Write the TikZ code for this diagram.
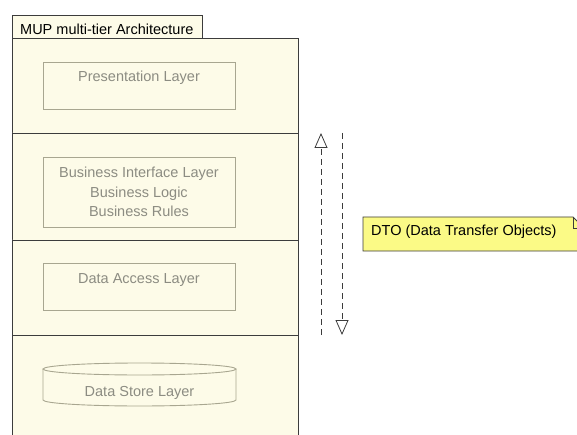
\documentclass[tikz,border=0pt]{standalone}
\usepackage{fontspec}
\setmainfont{Liberation Sans}
\usetikzlibrary{shapes.geometric, arrows.meta, positioning}
\definecolor{PkgCream}{HTML}{FDFBE8}
\definecolor{PkgLine}{HTML}{3C3C3C}
\definecolor{LayerLine}{HTML}{A8A690}
\definecolor{LayerText}{HTML}{8C8C82}
\definecolor{NoteYellow}{HTML}{FBFA86}
\tikzset{
    % Package frame and its tab
    package/.style={
        draw=PkgLine,
        fill=PkgCream,
        line width=0.9pt
    },
    % Boxes for the tiers
    layer box/.style={
        rectangle,
        draw=LayerLine,
        line width=0.9pt,
        minimum width=192,
        minimum height=47,
        inner sep=0pt
    },
    layer line/.style={
        draw=LayerLine,
        line width=0.9pt
    },
    layer text/.style={
        text=LayerText,
        font=\fontsize{14.5}{19.5}\selectfont,
        align=center,
        inner sep=0pt
    },
    plain text/.style={
        text=black,
        font=\fontsize{14.5}{17}\selectfont,
        inner sep=0pt
    },
    % DTO flow arrows
    dto arrow/.style={
        -{Triangle[open, length=15pt, width=13pt]},
        dash pattern=on 6pt off 4pt,
        line width=0.8pt,
        PkgLine
    },
    note/.style={
        draw=PkgLine,
        fill=NoteYellow,
        line width=0.8pt
    }
}

\begin{document}
\begin{tikzpicture}[x=1pt, y=-1pt]
    \useasboundingbox (0,0) rectangle (577,435);
    \clip (0,0) rectangle (577,435);

    % Package
    \draw[package] (12,15) rectangle (202,38);
    \draw[package] (12,38) rectangle (298,450);
    \node[plain text, anchor=base west] (title) at (20,35) {MUP multi-tier Architecture};

    % Tier separators
    \draw[package] (12,133) -- (298,133);
    \draw[package] (12,240) -- (298,240);
    \draw[package] (12,335) -- (298,335);

    % Presentation
    \node[layer box] (presentation) at (139,85.5) {};
    \node[layer text, anchor=base] (presentation label) at (139,82) {Presentation Layer};

    % Business
    \node[layer box, minimum height=70] (business) at (139,192) {};
    \node[layer text] (business label) at (139,192) {Business Interface Layer\\Business Logic\\Business Rules};

    % Data access
    \node[layer box] (access) at (139,286.5) {};
    \node[layer text, anchor=base] (access label) at (139,283) {Data Access Layer};

    % Data store (cylinder)
    \draw[layer line] (43,369) -- (43,400)
        arc[start angle=180, end angle=0, x radius=96.5, y radius=6] -- (236,369);
    \draw[layer line] (139.5,369) ellipse[x radius=96.5, y radius=6];
    \node[layer text, anchor=base] (store label) at (139.5,396) {Data Store Layer};

    % DTO flows up and down
    \coordinate (up start) at (321,335);
    \coordinate (up end) at (321,133);
    \coordinate (down start) at (342,133);
    \coordinate (down end) at (342,335);
    \draw[dto arrow] (up start) -- (up end);
    \draw[dto arrow] (down start) -- (down end);

    % Note
    \draw[note] (363,217) -- (573,217) -- (584,228) -- (584,251) -- (363,251) -- cycle;
    \draw[note, fill=none] (573,217) -- (573,228) -- (584,228);
    \node[plain text, anchor=base west] (dto) at (371,236) {DTO (Data Transfer Objects)};
\end{tikzpicture}
\end{document}
